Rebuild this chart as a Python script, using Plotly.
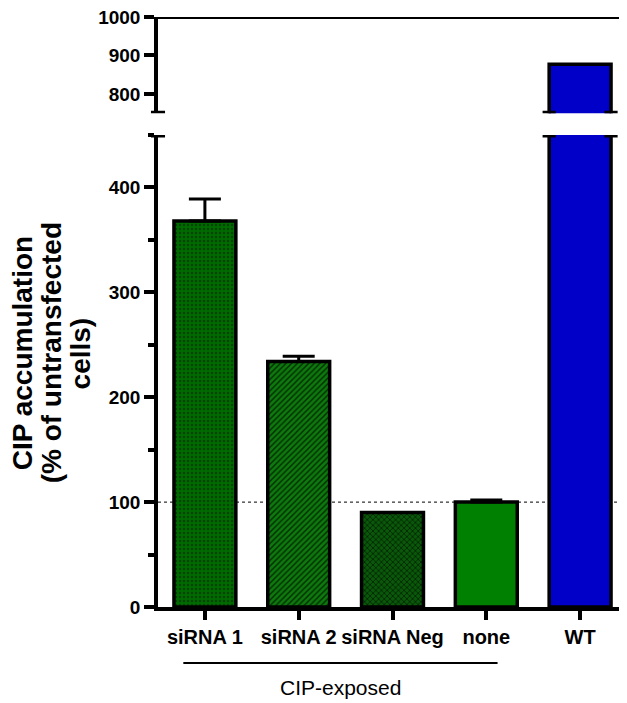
import plotly.graph_objects as go

categories = ["siRNA 1", "siRNA 2", "siRNA Neg", "none", "WT"]
values = [368, 234, 90, 100, 877]
err_up = [21, 5, 0, 2, 0]
fill_colors = ["#006c00", "#0e7a0e", "#0a580a", "#008000", "#0000c8"]
pattern_shapes = [".", "/", "x", "", ""]
pattern_fg = ["#004400", "#012c01", "#012001", "#008000", "#0000c8"]
lower_ticks = [0, 100, 200, 300, 400]
upper_ticks = [800, 900, 1000]
group_label = "CIP-exposed"
title_lines = ["CIP accumulation", "(% of untransfected", "cells)"]
ref_line = 100

FONT = "Arial, Liberation Sans, sans-serif"

fig = go.Figure()

for i, cat in enumerate(categories):
    pat = dict(shape=pattern_shapes[i], fgcolor=pattern_fg[i], bgcolor=fill_colors[i],
               fillmode="replace", fgopacity=1, size=4, solidity=0.35)
    marker = dict(color=fill_colors[i], line=dict(color="black", width=3.5), pattern=pat)
    # lower segment
    fig.add_trace(go.Bar(
        x=[i], y=[values[i]], width=0.66, marker=marker,
        error_y=dict(type="data", symmetric=False, array=[err_up[i]], arrayminus=[0],
                     color="black", thickness=3, width=16, visible=err_up[i] > 0),
        xaxis="x", yaxis="y", showlegend=False, hoverinfo="skip"))
    # upper segment
    fig.add_trace(go.Bar(
        x=[i], y=[values[i]], width=0.66, marker=marker,
        xaxis="x", yaxis="y2", showlegend=False, hoverinfo="skip"))

lower_top = 450
upper_bottom = 750

# page body has an 8px margin: figure is 8px smaller and offset
fig.update_layout(
    width=619, height=695, barmode="overlay",
    margin=dict(l=150, r=0, t=9, b=96, autoexpand=False),
    plot_bgcolor="white", paper_bgcolor="white",
    font=dict(family=FONT, size=20, color="black"),
    xaxis=dict(range=[-0.5, 4.5], tickmode="array", tickvals=list(range(len(categories))),
               ticktext=categories,
               showline=True, linecolor="black", linewidth=3.5,
               ticks="outside", ticklen=9, tickwidth=3.5, tickcolor="black",
               tickfont=dict(family=FONT, size=20, weight="bold"),
               showgrid=False, zeroline=False, anchor="y", automargin=False),
    yaxis=dict(domain=[0, 0.8], range=[0, lower_top], tickmode="array", tickvals=lower_ticks,
               showline=True, linecolor="black", linewidth=3.5,
               ticks="outside", ticklen=10, tickwidth=3.5, tickcolor="black",
               minor=dict(dtick=50, tick0=0, ticks="outside", ticklen=6, tickwidth=3.5,
                          tickcolor="black", showgrid=False),
               tickfont=dict(family=FONT, size=19, weight="bold"), ticklabeloverflow="allow",
               showgrid=False, zeroline=False, anchor="x", automargin=False),
    yaxis2=dict(domain=[0.837, 1], range=[upper_bottom, 1000], tickmode="array", tickvals=upper_ticks,
                showline=True, linecolor="black", linewidth=3.5,
                ticks="outside", ticklen=10, tickwidth=3.5, tickcolor="black",
                tickfont=dict(family=FONT, size=19, weight="bold"), ticklabeloverflow="allow",
                showgrid=False, zeroline=False, anchor="x", automargin=False),
)

shapes = []
# reference dotted line at 100
shapes.append(dict(type="line", xref="paper", x0=0, x1=1, yref="y", y0=ref_line, y1=ref_line,
                   line=dict(color="black", width=1, dash="dot"), layer="below"))
# top frame line of upper segment
shapes.append(dict(type="line", xref="paper", x0=0, x1=1, yref="y2", y0=1000, y1=1000,
                   line=dict(color="black", width=4)))
# axis break marks on y-axis and on the WT bar
for yr, yv in (("y", lower_top), ("y2", upper_bottom)):
    shapes.append(dict(type="line", xref="paper", x0=-0.015, x1=0.015, yref=yr, y0=yv, y1=yv,
                       line=dict(color="black", width=5)))
    for edge in (4 - 0.33, 4 + 0.33):
        shapes.append(dict(type="line", xref="x", x0=edge - 0.07, x1=edge + 0.07, yref=yr, y0=yv, y1=yv,
                           line=dict(color="black", width=5)))
# group bracket line
shapes.append(dict(type="line", xref="x", x0=-0.23, x1=3.12, yref="paper", y0=-0.095, y1=-0.095,
                   line=dict(color="black", width=2)))
fig.update_layout(shapes=shapes)

fig.add_annotation(text=group_label, xref="paper", yref="paper",
                   x=(1.45 + 0.5) / 5, y=-0.137, showarrow=False,
                   font=dict(family=FONT, size=21, color="black"), xanchor="center", yanchor="middle")

# y-axis title, one annotation per line for tight line spacing
title_x = [-0.290, -0.228, -0.166]
for line, xp in zip(title_lines, title_x):
    fig.add_annotation(text="<b>%s</b>" % line, xref="paper", yref="paper", x=xp, y=0.43,
                       textangle=-90, showarrow=False,
                       font=dict(family=FONT, size=28, color="black"),
                       xanchor="center", yanchor="middle")

fig.write_html("out.html")
